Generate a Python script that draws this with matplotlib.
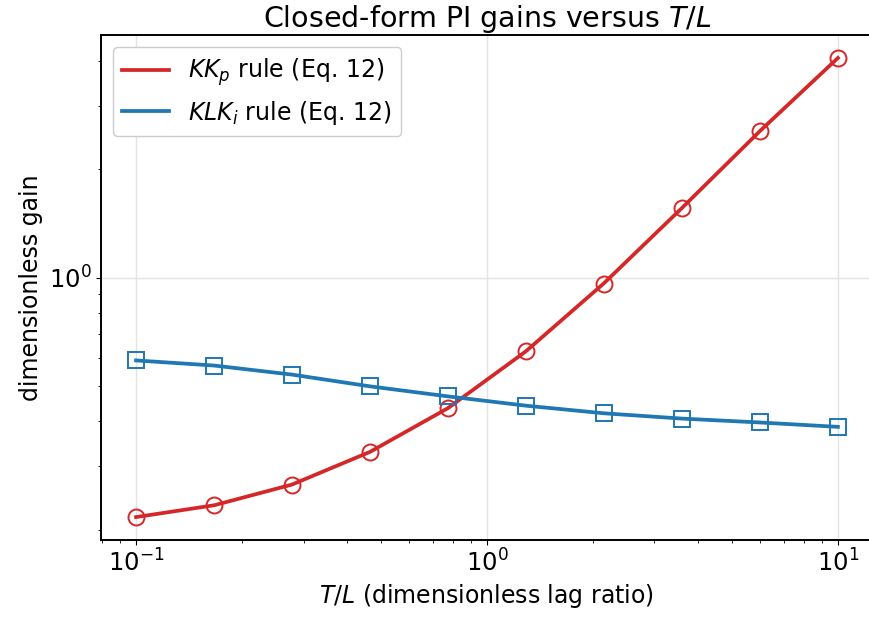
import numpy as np
import matplotlib
matplotlib.use("Agg")
import matplotlib.pyplot as plt
from matplotlib.ticker import NullFormatter


# Values

lag_ratio = [0.1, 0.167, 0.278, 0.464, 0.774,
             1.29, 2.15, 3.59, 5.99, 10.0]

kkp_gain = [0.217, 0.234, 0.267, 0.329, 0.435,
            0.625, 0.964, 1.56, 2.55, 4.07]

klki_gain = [0.590, 0.571, 0.539, 0.500, 0.469,
             0.442, 0.421, 0.407, 0.397, 0.386]

red = "#d62728"
blue = "#1f77b4"


fig = plt.figure(figsize=(8.69, 6.21), dpi=100)

# right spine falls just outside the canvas, as in the reference
ax = fig.add_axes([0.1162, 0.1304, 0.8884, 0.8132])

ax.plot(lag_ratio, kkp_gain, color=red, linewidth=2.7,
        label=r"$KK_p$ rule (Eq. 12)")
ax.plot(lag_ratio, klki_gain, color=blue, linewidth=2.7,
        label=r"$KLK_i$ rule (Eq. 12)")

ax.plot(lag_ratio, kkp_gain, linestyle="none", marker="o",
        markersize=11.5, markerfacecolor="none",
        markeredgecolor=red, markeredgewidth=1.4)
ax.plot(lag_ratio, klki_gain, linestyle="none", marker="s",
        markersize=11, markerfacecolor="none",
        markeredgecolor=blue, markeredgewidth=1.4)

ax.set_xscale("log")
ax.set_yscale("log")
ax.yaxis.set_minor_formatter(NullFormatter())

ax.grid(True, which="major", color="#e3e3e3", linewidth=1.0)

ax.tick_params(axis="both", which="major", labelsize=17.5)

for spine in ax.spines.values():
    spine.set_linewidth(1.4)

ax.set_xlabel(r"$T/L$ (dimensionless lag ratio)", fontsize=17)
ax.set_ylabel("dimensionless gain", fontsize=17)
ax.set_title(r"Closed-form PI gains versus $T/L$", fontsize=20.5)

ax.legend(loc="upper left", fontsize=17, handlelength=2.0,
          borderpad=0.4, labelspacing=0.45, framealpha=1.0)

fig.savefig("out.png", dpi=100)
